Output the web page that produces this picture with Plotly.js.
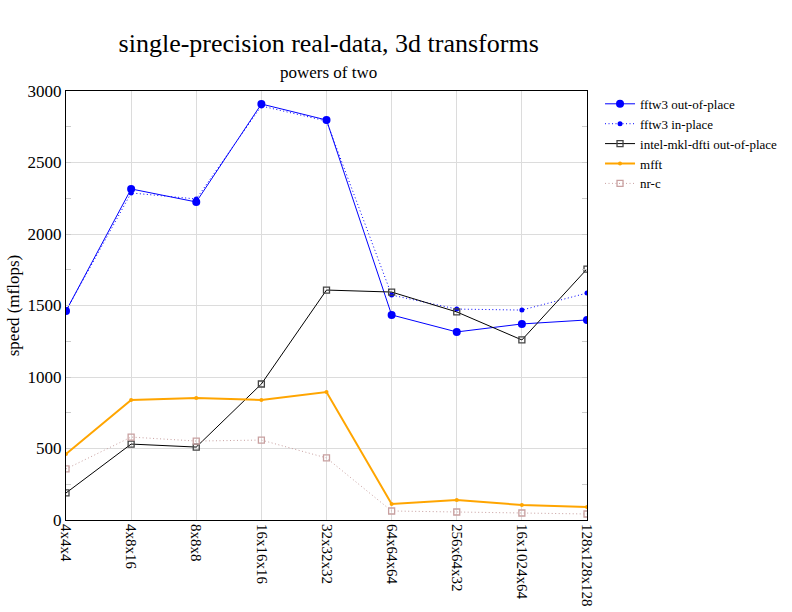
<!DOCTYPE html>
<html>
<head>
<meta charset="utf-8">
<script src="https://cdn.plot.ly/plotly-3.0.1.min.js"></script>
<style>body{margin:0;padding:0;background:#fff;}</style>
</head>
<body>
<div id="chart" style="width:792px;height:612px;"></div>
<script>
const categories = ["4x4x4","4x8x16","8x8x8","16x16x16","32x32x32","64x64x64","256x64x32","16x1024x64","128x128x128"];
const fftw3OutOfPlace = [1462, 2315, 2224, 2909, 2797, 1434, 1315, 1371, 1399];
const fftw3InPlace = [1462, 2287, 2245, 2895, 2790, 1573, 1475, 1468, 1587];
const intelMklDfti = [189, 531, 510, 951, 1608, 1594, 1455, 1259, 1755];
const mfft = [462, 839, 853, 839, 895, 112, 140, 105, 91];
const nrc = [357, 580, 552, 559, 434, 63, 56, 49, 42];

const serif = "Liberation Serif, Times New Roman, serif";

const traces = [
  {name: "fftw3 out-of-place", x: categories, y: fftw3OutOfPlace, mode: "lines+markers",
   line: {color: "#0000ff", width: 1}, marker: {color: "#0000ff", size: 8, symbol: "circle"}},
  {name: "fftw3 in-place", x: categories, y: fftw3InPlace, mode: "lines+markers",
   line: {color: "#0000ff", width: 1, dash: "1px,2.5px"}, marker: {color: "#0000ff", size: 5, symbol: "circle"}},
  {name: "intel-mkl-dfti out-of-place", x: categories, y: intelMklDfti, mode: "lines+markers",
   line: {color: "#000000", width: 1}, marker: {color: "#444444", size: 6, symbol: "square-open", line: {width: 1.3, color: "#444444"}}},
  {name: "mfft", x: categories, y: mfft, mode: "lines+markers",
   line: {color: "#ffa500", width: 2}, marker: {color: "#ffa500", size: 4, symbol: "circle"}},
  {name: "nr-c", x: categories, y: nrc, mode: "lines+markers",
   line: {color: "#c8a0a0", width: 1, dash: "1px,2.5px"}, marker: {color: "#c8a0a0", size: 6, symbol: "square-open", line: {width: 1.3, color: "#c8a0a0"}}}
];

const layout = {
  width: 792, height: 612,
  margin: {l: 66, r: 205, t: 91, b: 92, autoexpand: false},
  paper_bgcolor: "#ffffff", plot_bgcolor: "#ffffff",
  font: {family: serif, color: "#000"},
  title: {text: "single-precision real-data, 3d transforms",
          font: {family: serif, size: 26, color: "#000"}, x: 0.415, xanchor: "center", y: 0.93, yanchor: "middle"},
  annotations: [{text: "powers of two", xref: "paper", yref: "paper", x: 0.503, y: 1.044,
                 xanchor: "center", yanchor: "middle", showarrow: false,
                 font: {family: serif, size: 17, color: "#000"}}],
  showlegend: true,
  legend: {x: 1.025, y: 1.005, xanchor: "left", yanchor: "top", font: {family: serif, size: 13, color: "#000"},
           bgcolor: "rgba(0,0,0,0)", tracegroupgap: 0, itemwidth: 30},
  xaxis: {type: "category", range: [0, 8], showgrid: true, gridcolor: "#dcdcdc", gridwidth: 1,
          showline: true, linecolor: "#000", linewidth: 1, mirror: true,
          ticks: "", tickangle: 90, tickfont: {family: serif, size: 15, color: "#000"}, zeroline: false},
  yaxis: {range: [0, 3000], dtick: 500, showgrid: true, gridcolor: "#dcdcdc", gridwidth: 1,
          showline: true, linecolor: "#000", linewidth: 1, mirror: "ticks",
          ticks: "inside", ticklen: 5, tickcolor: "#cccccc",
          minor: {dtick: 250, ticks: "inside", ticklen: 5, tickcolor: "#cccccc", showgrid: false},
          tickfont: {family: serif, size: 17, color: "#000"}, zeroline: false,
          title: {text: "speed (mflops)", font: {family: serif, size: 17, color: "#000"}, standoff: 3}}
};

Plotly.newPlot("chart", traces, layout, {displayModeBar: false, staticPlot: true});
</script>
</body>
</html>
